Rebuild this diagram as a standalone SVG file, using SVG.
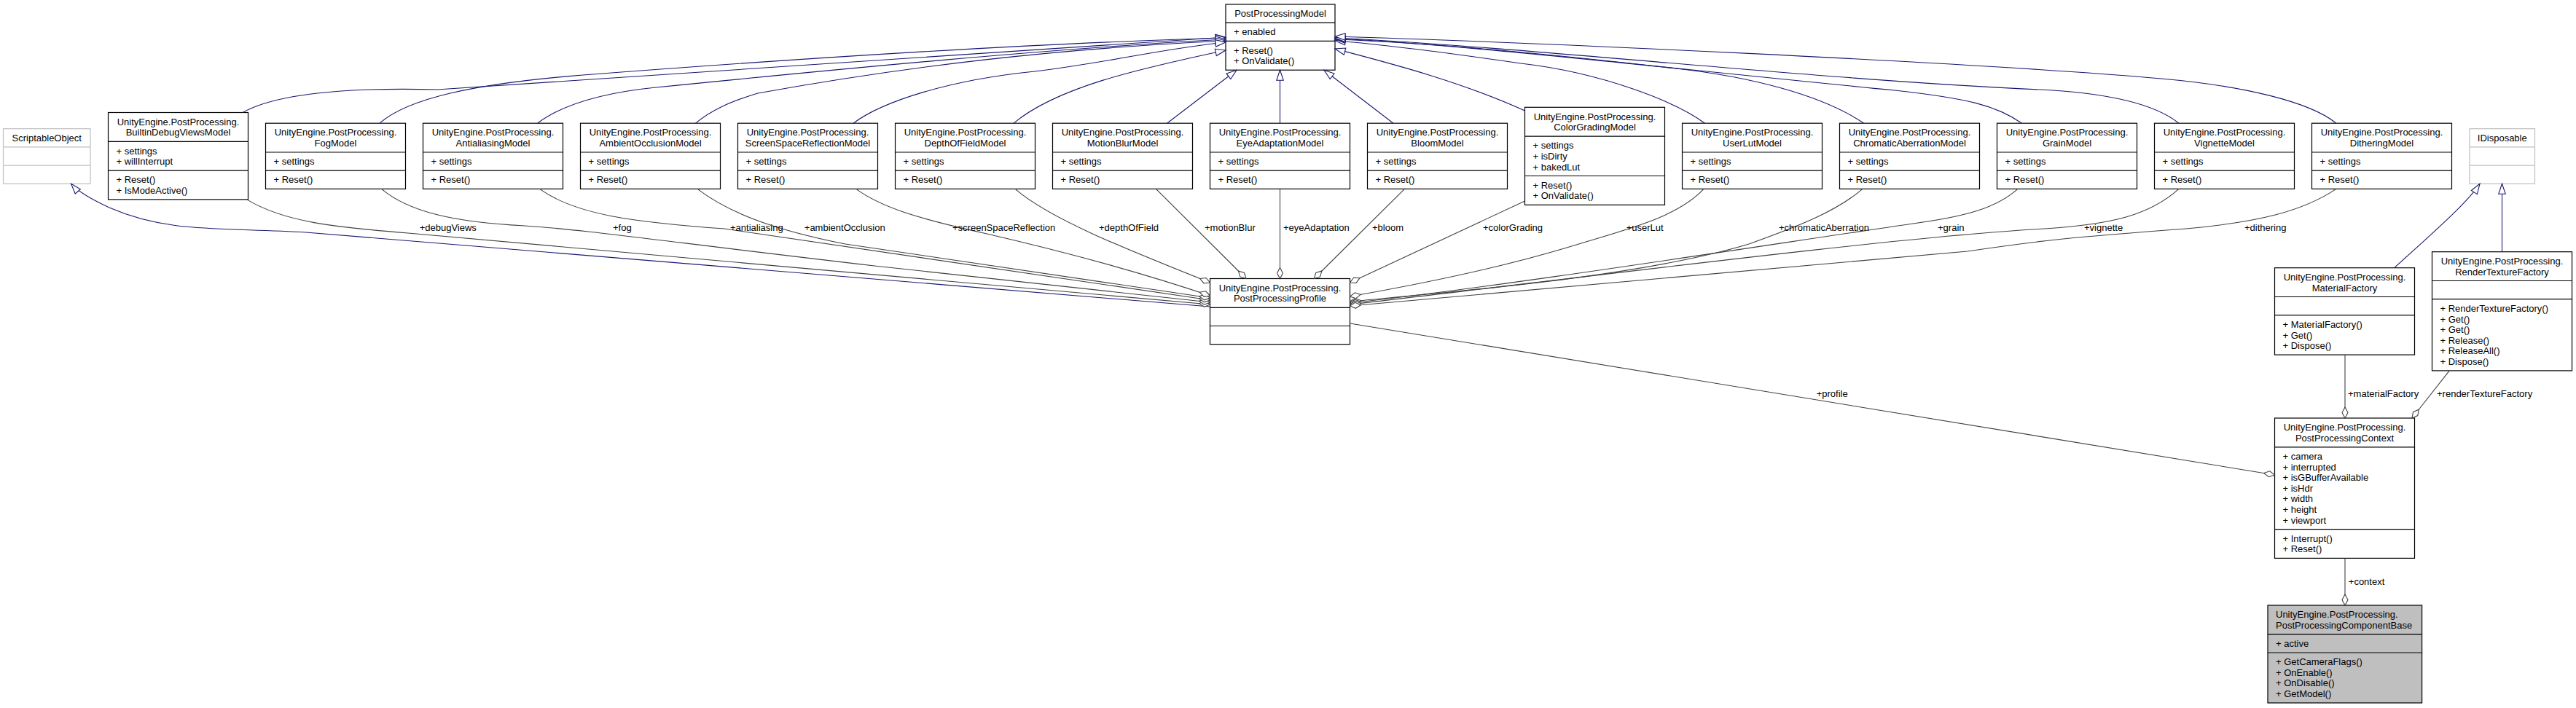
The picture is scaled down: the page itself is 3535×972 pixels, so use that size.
<svg xmlns="http://www.w3.org/2000/svg" width="3535" height="972" viewBox="0 0 3535 972">
<style>
text{font-family:"Liberation Sans",Arial,Helvetica,sans-serif;font-size:13px;fill:#000}
.t{text-anchor:middle}
.n rect{fill:#fff;stroke:#000;stroke-width:1.2}
.n path{fill:none;stroke:#000;stroke-width:1.2}
.x rect{fill:#fff;stroke:#bfbfbf;stroke-width:1.2}
.x path{fill:none;stroke:#bfbfbf;stroke-width:1.2}
.g rect{fill:#bfbfbf}
.inh{fill:none;stroke:#191970;stroke-width:1.1;marker-end:url(#tri)}
.agg{fill:none;stroke:#404040;stroke-width:1.1;marker-end:url(#dia)}
</style>
<defs>
<marker id="tri" markerUnits="userSpaceOnUse" markerWidth="16" markerHeight="12" refX="14" refY="4.75" orient="auto" overflow="visible"><path d="M0,0L14,4.75L0,9.5z" fill="#fff" stroke="#191970" stroke-width="1.1"/></marker>
<marker id="dia" markerUnits="userSpaceOnUse" markerWidth="17" markerHeight="10" refX="15" refY="4" orient="auto" overflow="visible"><path d="M0,4L7.5,0L15,4L7.5,8z" fill="#fff" stroke="#404040" stroke-width="1.1"/></marker>
</defs>
<rect width="3535" height="972" fill="#fff"/>

<g id="PostProcessingModel" class="n"><rect x="1682" y="6" width="150" height="90.2"/><path d="M1682,31.2H1832M1682,56.4H1832"/><text class="t" x="1757" y="23.2">PostProcessingModel</text><text x="1693" y="48.4">+ enabled</text><text x="1693" y="73.6">+ Reset()</text><text x="1693" y="88.2">+ OnValidate()</text></g>

<g id="ScriptableObject" class="x"><rect x="4.5" y="176.7" width="119.5" height="75.6"/><path d="M4.5,201.9H124M4.5,227.1H124"/><text class="t" x="64.25" y="193.9">ScriptableObject</text></g>

<g id="IDisposable" class="x"><rect x="3389" y="176.7" width="89.5" height="75.6"/><path d="M3389,201.9H3478.5M3389,227.1H3478.5"/><text class="t" x="3433.75" y="193.9">IDisposable</text></g>

<g id="BuiltinDebugViewsModel" class="n"><rect x="148.5" y="154.5" width="192" height="119.4"/><path d="M148.5,194.3H340.5M148.5,234.1H340.5"/><text class="t" x="244.5" y="171.7">UnityEngine.PostProcessing.</text><text class="t" x="244.5" y="186.3">BuiltinDebugViewsModel</text><text x="159.5" y="211.5">+ settings</text><text x="159.5" y="226.1">+ willInterrupt</text><text x="159.5" y="251.3">+ Reset()</text><text x="159.5" y="265.9">+ IsModeActive()</text></g>

<g id="FogModel" class="n"><rect x="364.5" y="169.2" width="192" height="90.2"/><path d="M364.5,209H556.5M364.5,234.2H556.5"/><text class="t" x="460.5" y="186.4">UnityEngine.PostProcessing.</text><text class="t" x="460.5" y="201">FogModel</text><text x="375.5" y="226.2">+ settings</text><text x="375.5" y="251.4">+ Reset()</text></g>

<g id="AntialiasingModel" class="n"><rect x="580.5" y="169.2" width="192" height="90.2"/><path d="M580.5,209H772.5M580.5,234.2H772.5"/><text class="t" x="676.5" y="186.4">UnityEngine.PostProcessing.</text><text class="t" x="676.5" y="201">AntialiasingModel</text><text x="591.5" y="226.2">+ settings</text><text x="591.5" y="251.4">+ Reset()</text></g>

<g id="AmbientOcclusionModel" class="n"><rect x="796.5" y="169.2" width="192" height="90.2"/><path d="M796.5,209H988.5M796.5,234.2H988.5"/><text class="t" x="892.5" y="186.4">UnityEngine.PostProcessing.</text><text class="t" x="892.5" y="201">AmbientOcclusionModel</text><text x="807.5" y="226.2">+ settings</text><text x="807.5" y="251.4">+ Reset()</text></g>

<g id="ScreenSpaceReflectionModel" class="n"><rect x="1012.5" y="169.2" width="192" height="90.2"/><path d="M1012.5,209H1204.5M1012.5,234.2H1204.5"/><text class="t" x="1108.5" y="186.4">UnityEngine.PostProcessing.</text><text class="t" x="1108.5" y="201">ScreenSpaceReflectionModel</text><text x="1023.5" y="226.2">+ settings</text><text x="1023.5" y="251.4">+ Reset()</text></g>

<g id="DepthOfFieldModel" class="n"><rect x="1228.5" y="169.2" width="192" height="90.2"/><path d="M1228.5,209H1420.5M1228.5,234.2H1420.5"/><text class="t" x="1324.5" y="186.4">UnityEngine.PostProcessing.</text><text class="t" x="1324.5" y="201">DepthOfFieldModel</text><text x="1239.5" y="226.2">+ settings</text><text x="1239.5" y="251.4">+ Reset()</text></g>

<g id="MotionBlurModel" class="n"><rect x="1444.5" y="169.2" width="192" height="90.2"/><path d="M1444.5,209H1636.5M1444.5,234.2H1636.5"/><text class="t" x="1540.5" y="186.4">UnityEngine.PostProcessing.</text><text class="t" x="1540.5" y="201">MotionBlurModel</text><text x="1455.5" y="226.2">+ settings</text><text x="1455.5" y="251.4">+ Reset()</text></g>

<g id="EyeAdaptationModel" class="n"><rect x="1660.5" y="169.2" width="192" height="90.2"/><path d="M1660.5,209H1852.5M1660.5,234.2H1852.5"/><text class="t" x="1756.5" y="186.4">UnityEngine.PostProcessing.</text><text class="t" x="1756.5" y="201">EyeAdaptationModel</text><text x="1671.5" y="226.2">+ settings</text><text x="1671.5" y="251.4">+ Reset()</text></g>

<g id="BloomModel" class="n"><rect x="1876.5" y="169.2" width="192" height="90.2"/><path d="M1876.5,209H2068.5M1876.5,234.2H2068.5"/><text class="t" x="1972.5" y="186.4">UnityEngine.PostProcessing.</text><text class="t" x="1972.5" y="201">BloomModel</text><text x="1887.5" y="226.2">+ settings</text><text x="1887.5" y="251.4">+ Reset()</text></g>

<g id="ColorGradingModel" class="n"><rect x="2092.5" y="147.3" width="192" height="134"/><path d="M2092.5,187.1H2284.5M2092.5,241.5H2284.5"/><text class="t" x="2188.5" y="164.5">UnityEngine.PostProcessing.</text><text class="t" x="2188.5" y="179.1">ColorGradingModel</text><text x="2103.5" y="204.3">+ settings</text><text x="2103.5" y="218.9">+ isDirty</text><text x="2103.5" y="233.5">+ bakedLut</text><text x="2103.5" y="258.7">+ Reset()</text><text x="2103.5" y="273.3">+ OnValidate()</text></g>

<g id="UserLutModel" class="n"><rect x="2308.5" y="169.2" width="192" height="90.2"/><path d="M2308.5,209H2500.5M2308.5,234.2H2500.5"/><text class="t" x="2404.5" y="186.4">UnityEngine.PostProcessing.</text><text class="t" x="2404.5" y="201">UserLutModel</text><text x="2319.5" y="226.2">+ settings</text><text x="2319.5" y="251.4">+ Reset()</text></g>

<g id="ChromaticAberrationModel" class="n"><rect x="2524.5" y="169.2" width="192" height="90.2"/><path d="M2524.5,209H2716.5M2524.5,234.2H2716.5"/><text class="t" x="2620.5" y="186.4">UnityEngine.PostProcessing.</text><text class="t" x="2620.5" y="201">ChromaticAberrationModel</text><text x="2535.5" y="226.2">+ settings</text><text x="2535.5" y="251.4">+ Reset()</text></g>

<g id="GrainModel" class="n"><rect x="2740.5" y="169.2" width="192" height="90.2"/><path d="M2740.5,209H2932.5M2740.5,234.2H2932.5"/><text class="t" x="2836.5" y="186.4">UnityEngine.PostProcessing.</text><text class="t" x="2836.5" y="201">GrainModel</text><text x="2751.5" y="226.2">+ settings</text><text x="2751.5" y="251.4">+ Reset()</text></g>

<g id="VignetteModel" class="n"><rect x="2956.5" y="169.2" width="192" height="90.2"/><path d="M2956.5,209H3148.5M2956.5,234.2H3148.5"/><text class="t" x="3052.5" y="186.4">UnityEngine.PostProcessing.</text><text class="t" x="3052.5" y="201">VignetteModel</text><text x="2967.5" y="226.2">+ settings</text><text x="2967.5" y="251.4">+ Reset()</text></g>

<g id="DitheringModel" class="n"><rect x="3172.5" y="169.2" width="192" height="90.2"/><path d="M3172.5,209H3364.5M3172.5,234.2H3364.5"/><text class="t" x="3268.5" y="186.4">UnityEngine.PostProcessing.</text><text class="t" x="3268.5" y="201">DitheringModel</text><text x="3183.5" y="226.2">+ settings</text><text x="3183.5" y="251.4">+ Reset()</text></g>

<g id="PostProcessingProfile" class="n"><rect x="1660.5" y="382.5" width="192" height="90.2"/><path d="M1660.5,422.3H1852.5M1660.5,447.5H1852.5"/><text class="t" x="1756.5" y="399.7">UnityEngine.PostProcessing.</text><text class="t" x="1756.5" y="414.3">PostProcessingProfile</text></g>

<g id="MaterialFactory" class="n"><rect x="3121.5" y="367.7" width="192" height="119.4"/><path d="M3121.5,407.5H3313.5M3121.5,432.7H3313.5"/><text class="t" x="3217.5" y="384.9">UnityEngine.PostProcessing.</text><text class="t" x="3217.5" y="399.5">MaterialFactory</text><text x="3132.5" y="449.9">+ MaterialFactory()</text><text x="3132.5" y="464.5">+ Get()</text><text x="3132.5" y="479.1">+ Dispose()</text></g>

<g id="RenderTextureFactory" class="n"><rect x="3337.5" y="345.7" width="192" height="163.2"/><path d="M3337.5,385.5H3529.5M3337.5,410.7H3529.5"/><text class="t" x="3433.5" y="362.9">UnityEngine.PostProcessing.</text><text class="t" x="3433.5" y="377.5">RenderTextureFactory</text><text x="3348.5" y="427.9">+ RenderTextureFactory()</text><text x="3348.5" y="442.5">+ Get()</text><text x="3348.5" y="457.1">+ Get()</text><text x="3348.5" y="471.7">+ Release()</text><text x="3348.5" y="486.3">+ ReleaseAll()</text><text x="3348.5" y="500.9">+ Dispose()</text></g>

<g id="PostProcessingContext" class="n"><rect x="3121.5" y="574" width="192" height="192.4"/><path d="M3121.5,613.8H3313.5M3121.5,726.6H3313.5"/><text class="t" x="3217.5" y="591.2">UnityEngine.PostProcessing.</text><text class="t" x="3217.5" y="605.8">PostProcessingContext</text><text x="3132.5" y="631">+ camera</text><text x="3132.5" y="645.6">+ interrupted</text><text x="3132.5" y="660.2">+ isGBufferAvailable</text><text x="3132.5" y="674.8">+ isHdr</text><text x="3132.5" y="689.4">+ width</text><text x="3132.5" y="704">+ height</text><text x="3132.5" y="718.6">+ viewport</text><text x="3132.5" y="743.8">+ Interrupt()</text><text x="3132.5" y="758.4">+ Reset()</text></g>

<g id="PostProcessingComponentBase" class="n g"><rect x="3112" y="831" width="211.6" height="134"/><path d="M3112,870.8H3323.6M3112,896H3323.6"/><text x="3123" y="848.2">UnityEngine.PostProcessing.</text><text x="3123" y="862.8">PostProcessingComponentBase</text><text x="3123" y="888">+ active</text><text x="3123" y="913.2">+ GetCameraFlags()</text><text x="3123" y="927.8">+ OnEnable()</text><text x="3123" y="942.4">+ OnDisable()</text><text x="3123" y="957">+ GetModel()</text></g>

<g id="connectors">
<path class="inh" d="M333,154.5C380,128 480,120 600,123L1682,51"/>
<path class="inh" d="M521,169.2C560,135 650,115 800,103C1100,80 1400,60 1682,52"/>
<path class="inh" d="M737.6,169.2C770,145 820,128 900,120C1150,95 1450,66 1682,54"/>
<path class="inh" d="M954.5,169.2C975,152 1000,140 1040,128C1250,90 1450,67 1682,56"/>
<path class="inh" d="M1171,169.2C1210,140 1300,110 1420,98C1520,86 1600,66 1682,58"/>
<path class="inh" d="M1391,169.2C1450,120 1560,95 1682,69"/>
<path class="inh" d="M1601.5,169.2L1697,96.2"/>
<path class="inh" d="M1756.5,169.2V96.2"/>
<path class="inh" d="M1912,169.2L1817,96.2"/>
<path class="inh" d="M2092.5,152C2000,110 1900,85 1832,67"/>
<path class="inh" d="M2339.6,169.2C2300,140 2200,100 2087,87C1990,73 1900,61 1832,56"/>
<path class="inh" d="M2557.7,169.2C2500,130 2400,105 2300,94C2100,71 1950,58 1832,54"/>
<path class="inh" d="M2774.5,169.2C2740,145 2700,135 2600,124C2300,95 2000,60 1832,53"/>
<path class="inh" d="M2990,169.2C2960,145 2900,128 2800,123C2500,110 2100,65 1832,52"/>
<path class="inh" d="M3206,169.2C3170,140 3080,118 2966,108C2700,85 2100,58 1832,50"/>
<path class="inh" d="M1660.5,421L420,319C300,312 230,320 150,285C122,272 106,262 97.6,252.3"/>
<path class="inh" d="M3285.8,367.7C3330,327 3385,280 3403,252.3"/>
<path class="inh" d="M3433.5,345.7V252.3"/>

<path class="agg" d="M338.7,273.9C390,305 460,312 560,320L1660.5,418"/>
<path class="agg" d="M523.5,259.4C560,290 620,305 720,310C800,315 900,330 1200,365L1660.5,415"/>
<path class="agg" d="M740.5,259.4C790,295 870,305 994,314L1660.5,412"/>
<path class="agg" d="M957,259.4C1000,292 1060,315 1160,335L1660.5,409"/>
<path class="agg" d="M1174.7,259.4C1210,285 1260,300 1350,320C1450,343 1560,372 1660.5,406"/>
<path class="agg" d="M1393,259.4C1440,300 1540,340 1660.5,388"/>
<path class="agg" d="M1586.4,259.4L1710,382.5"/>
<path class="agg" d="M1756.5,259.4V382.5"/>
<path class="agg" d="M1927.5,259.4L1803.3,382.5"/>
<path class="agg" d="M2092.5,276L1852.5,388"/>
<path class="agg" d="M2338,259.4C2300,300 2230,315 2150,340C2050,370 1950,390 1852.5,407"/>
<path class="agg" d="M2556,259.4C2520,290 2470,310 2400,335C2250,380 2000,400 1852.5,414"/>
<path class="agg" d="M2769,259.4C2740,285 2700,297 2625,307C2400,340 2050,395 1852.5,416"/>
<path class="agg" d="M2990,259.4C2950,295 2900,308 2806,314C2600,325 2100,390 1852.5,418"/>
<path class="agg" d="M3206,259.4C3160,290 3100,305 3000,314C2850,325 2800,330 2700,345L1852.5,420"/>
<path class="agg" d="M1852.5,444L3121.5,652"/>
<path class="agg" d="M3218,487.1V574"/>
<path class="agg" d="M3361.3,508.9L3310,574"/>
<path class="agg" d="M3218,766.4V831"/>

<text x="575.7" y="317.3">+debugViews</text>
<text x="841" y="317.3">+fog</text>
<text x="1002" y="317.3">+antialiasing</text>
<text x="1103.8" y="317.3">+ambientOcclusion</text>
<text x="1307" y="317.3">+screenSpaceReflection</text>
<text x="1508" y="317.3">+depthOfField</text>
<text x="1653" y="317.3">+motionBlur</text>
<text x="1761" y="317.3">+eyeAdaptation</text>
<text x="1883" y="317.3">+bloom</text>
<text x="2035" y="317.3">+colorGrading</text>
<text x="2231.7" y="317.3">+userLut</text>
<text x="2441" y="317.3">+chromaticAberration</text>
<text x="2659" y="317.3">+grain</text>
<text x="2860" y="317.3">+vignette</text>
<text x="3080" y="317.3">+dithering</text>
<text x="2492.7" y="545.3">+profile</text>
<text x="3222" y="545.3">+materialFactory</text>
<text x="3344" y="545.3">+renderTextureFactory</text>
<text x="3222.8" y="803.3">+context</text>
</g>
</svg>
